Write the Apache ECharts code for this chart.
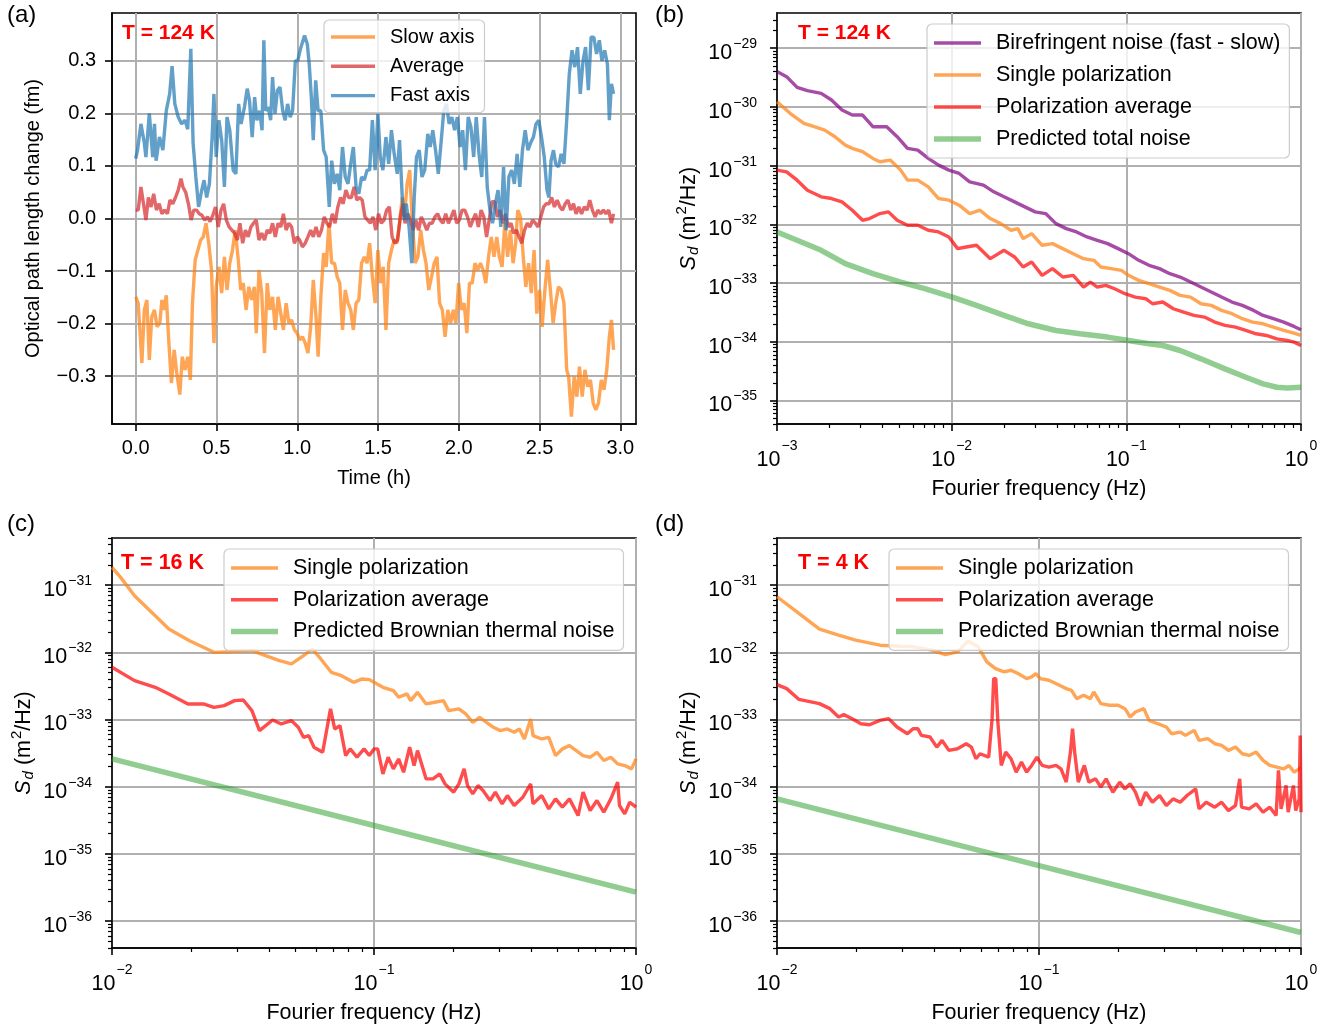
<!DOCTYPE html>
<html><head><meta charset="utf-8">
<script src="https://cdn.jsdelivr.net/npm/echarts@6/dist/echarts.min.js"></script>
<style>html,body{margin:0;padding:0;background:#fff}#c{width:1339px;height:1029px}</style>
</head><body><div id="c"></div>
<script>
// ---------- Panel (a): time (h), optical path length change (fm) ----------
const slowAxis = [[0.000,-0.149],[0.015,-0.161],[0.027,-0.218],[0.038,-0.275],[0.053,-0.174],[0.069,-0.155],[0.084,-0.269],[0.099,-0.187],[0.116,-0.174],[0.132,-0.206],[0.149,-0.199],[0.162,-0.155],[0.174,-0.174],[0.189,-0.146],[0.204,-0.231],[0.221,-0.313],[0.238,-0.25],[0.254,-0.294],[0.273,-0.335],[0.288,-0.263],[0.305,-0.288],[0.322,-0.263],[0.338,-0.307],[0.351,-0.161],[0.368,-0.079],[0.385,-0.06],[0.402,-0.041],[0.418,-0.035],[0.435,-0.009],[0.452,-0.047],[0.469,-0.098],[0.484,-0.237],[0.498,-0.13],[0.515,-0.092],[0.532,-0.142],[0.549,-0.073],[0.565,-0.136],[0.582,-0.085],[0.599,-0.06],[0.616,-0.022],[0.633,-0.073],[0.650,-0.136],[0.666,-0.123],[0.683,-0.174],[0.700,-0.13],[0.717,-0.155],[0.734,-0.13],[0.746,-0.218],[0.763,-0.098],[0.780,-0.142],[0.797,-0.256],[0.814,-0.123],[0.830,-0.174],[0.847,-0.149],[0.864,-0.212],[0.881,-0.149],[0.898,-0.181],[0.914,-0.212],[0.931,-0.161],[0.948,-0.199],[0.965,-0.193],[0.982,-0.212],[0.999,-0.218],[1.015,-0.231],[1.032,-0.225],[1.049,-0.237],[1.066,-0.256],[1.083,-0.206],[1.099,-0.117],[1.116,-0.187],[1.129,-0.263],[1.146,-0.149],[1.163,-0.066],[1.179,-0.092],[1.196,-0.009],[1.213,-0.085],[1.230,-0.085],[1.247,-0.111],[1.263,-0.123],[1.280,-0.212],[1.297,-0.136],[1.314,-0.161],[1.331,-0.174],[1.347,-0.212],[1.364,-0.161],[1.381,-0.155],[1.398,-0.085],[1.415,-0.073],[1.432,-0.085],[1.448,-0.047],[1.465,-0.111],[1.482,-0.161],[1.499,-0.06],[1.516,-0.123],[1.532,-0.092],[1.549,-0.212],[1.566,-0.085],[1.583,-0.06],[1.600,-0.041],[1.617,-0.047],[1.633,-0.009],[1.650,0.04],[1.663,0.003],[1.680,0.066],[1.696,0.092],[1.713,-0.009],[1.730,-0.085],[1.747,-0.073],[1.764,-0.022],[1.781,-0.06],[1.797,-0.085],[1.814,-0.136],[1.831,-0.111],[1.848,-0.085],[1.865,-0.073],[1.881,-0.161],[1.898,-0.174],[1.915,-0.225],[1.932,-0.174],[1.949,-0.199],[1.966,-0.174],[1.982,-0.199],[1.999,-0.123],[2.016,-0.174],[2.033,-0.161],[2.050,-0.218],[2.066,-0.123],[2.083,-0.123],[2.100,-0.085],[2.117,-0.098],[2.134,-0.085],[2.150,-0.098],[2.167,-0.123],[2.184,-0.073],[2.201,-0.035],[2.218,-0.073],[2.235,-0.035],[2.251,-0.073],[2.268,-0.092],[2.285,-0.009],[2.302,-0.073],[2.319,-0.022],[2.336,-0.085],[2.352,-0.047],[2.365,0.016],[2.382,0.003],[2.399,-0.073],[2.415,-0.13],[2.432,-0.085],[2.449,-0.142],[2.466,-0.06],[2.483,-0.181],[2.500,-0.136],[2.516,-0.206],[2.533,-0.136],[2.550,-0.079],[2.567,-0.136],[2.584,-0.199],[2.600,-0.161],[2.617,-0.13],[2.634,-0.136],[2.651,-0.161],[2.668,-0.288],[2.680,-0.301],[2.697,-0.377],[2.714,-0.301],[2.731,-0.339],[2.747,-0.282],[2.764,-0.339],[2.781,-0.288],[2.798,-0.32],[2.815,-0.307],[2.832,-0.351],[2.848,-0.364],[2.865,-0.351],[2.882,-0.307],[2.899,-0.326],[2.916,-0.288],[2.932,-0.225],[2.945,-0.193],[2.958,-0.25]];

const averageAxis = [[0.000,0.016],[0.015,0.016],[0.032,0.06],[0.048,0.028],[0.063,-0.003],[0.078,0.04],[0.095,0.022],[0.111,0.047],[0.128,0.016],[0.145,0.028],[0.162,0.009],[0.179,0.016],[0.196,0.009],[0.212,0.035],[0.229,0.028],[0.246,0.04],[0.263,0.054],[0.280,0.076],[0.292,0.06],[0.309,0.05],[0.326,0.028],[0.343,-0.003],[0.359,0.016],[0.376,0.016],[0.393,0.009],[0.410,0.006],[0.427,-0.003],[0.444,0.003],[0.460,-0.006],[0.477,0.006],[0.494,0.022],[0.511,-0.016],[0.528,0.016],[0.544,0.028],[0.561,-0.003],[0.578,-0.016],[0.595,-0.022],[0.612,-0.028],[0.629,-0.041],[0.645,-0.009],[0.662,-0.047],[0.679,-0.022],[0.696,-0.035],[0.713,-0.016],[0.729,-0.009],[0.746,-0.003],[0.763,-0.041],[0.780,-0.028],[0.797,-0.041],[0.814,-0.022],[0.830,-0.028],[0.847,-0.009],[0.864,-0.035],[0.881,-0.009],[0.898,-0.016],[0.914,0.009],[0.931,-0.022],[0.948,-0.009],[0.965,-0.016],[0.982,-0.047],[0.999,-0.035],[1.015,-0.041],[1.032,-0.054],[1.049,-0.047],[1.066,-0.035],[1.083,-0.022],[1.099,-0.035],[1.116,-0.016],[1.133,-0.035],[1.150,-0.022],[1.167,0.003],[1.184,-0.009],[1.200,-0.016],[1.217,0.009],[1.234,-0.009],[1.251,0.022],[1.268,0.04],[1.284,0.028],[1.301,0.054],[1.318,0.04],[1.335,0.04],[1.352,0.06],[1.369,0.035],[1.385,0.04],[1.402,0.035],[1.419,0.003],[1.436,-0.003],[1.453,-0.009],[1.469,0.003],[1.486,-0.022],[1.503,0.009],[1.520,-0.009],[1.537,-0.003],[1.553,0.016],[1.570,0.022],[1.587,-0.035],[1.604,-0.047],[1.621,-0.041],[1.638,0.003],[1.654,0.028],[1.667,-0.009],[1.684,0.009],[1.701,-0.003],[1.717,-0.022],[1.734,-0.003],[1.751,-0.022],[1.768,0.003],[1.785,-0.009],[1.802,-0.022],[1.818,-0.009],[1.835,-0.009],[1.852,0.003],[1.869,0.009],[1.886,-0.003],[1.902,-0.009],[1.919,0.009],[1.936,-0.009],[1.953,0.003],[1.970,0.016],[1.987,-0.009],[2.003,-0.003],[2.020,0.016],[2.037,0.016],[2.054,0.003],[2.071,-0.016],[2.087,-0.003],[2.104,0.009],[2.121,-0.016],[2.138,0.016],[2.155,0.003],[2.172,-0.035],[2.188,-0.003],[2.205,0.032],[2.222,0.032],[2.239,0.003],[2.256,0.016],[2.272,-0.009],[2.289,0.009],[2.306,-0.016],[2.323,-0.009],[2.340,-0.028],[2.357,-0.022],[2.373,-0.035],[2.390,-0.047],[2.407,-0.022],[2.424,-0.009],[2.441,-0.016],[2.457,-0.003],[2.474,-0.009],[2.491,-0.016],[2.508,0.003],[2.525,0.022],[2.541,0.028],[2.558,0.028],[2.575,0.04],[2.592,0.022],[2.609,0.035],[2.626,0.022],[2.642,0.016],[2.659,0.028],[2.676,0.035],[2.693,0.016],[2.710,0.028],[2.726,0.009],[2.743,0.022],[2.760,0.009],[2.777,0.022],[2.794,0.016],[2.811,0.035],[2.827,0.016],[2.844,0.003],[2.861,0.016],[2.878,0.009],[2.895,0.016],[2.911,0.009],[2.928,0.016],[2.945,-0.009],[2.958,0.009]];

const fastAxis = [[0.000,0.114],[0.011,0.13],[0.032,0.18],[0.053,0.144],[0.063,0.117],[0.084,0.2],[0.105,0.117],[0.116,0.18],[0.126,0.11],[0.147,0.155],[0.168,0.13],[0.189,0.205],[0.210,0.237],[0.225,0.29],[0.242,0.218],[0.263,0.193],[0.284,0.18],[0.305,0.187],[0.322,0.17],[0.341,0.323],[0.355,0.144],[0.372,0.079],[0.389,0.022],[0.406,0.05],[0.423,0.073],[0.439,0.04],[0.456,0.066],[0.473,0.155],[0.484,0.237],[0.498,0.117],[0.515,0.187],[0.532,0.149],[0.549,0.06],[0.565,0.193],[0.582,0.168],[0.603,0.092],[0.620,0.085],[0.637,0.218],[0.652,0.18],[0.673,0.212],[0.690,0.247],[0.704,0.225],[0.721,0.155],[0.736,0.231],[0.750,0.187],[0.767,0.205],[0.782,0.168],[0.793,0.339],[0.805,0.205],[0.820,0.212],[0.835,0.187],[0.847,0.269],[0.862,0.199],[0.877,0.244],[0.893,0.25],[0.910,0.205],[0.925,0.187],[0.940,0.218],[0.956,0.193],[0.971,0.205],[0.988,0.30],[1.003,0.30],[1.020,0.323],[1.032,0.32],[1.045,0.348],[1.062,0.332],[1.074,0.294],[1.087,0.231],[1.099,0.149],[1.114,0.263],[1.129,0.205],[1.146,0.205],[1.163,0.13],[1.179,0.117],[1.198,0.022],[1.213,0.11],[1.230,0.066],[1.247,0.085],[1.263,0.054],[1.280,0.136],[1.297,0.079],[1.314,0.066],[1.331,0.104],[1.347,0.136],[1.364,0.06],[1.381,0.047],[1.398,0.079],[1.415,0.073],[1.432,0.092],[1.448,0.092],[1.465,0.187],[1.482,0.092],[1.499,0.199],[1.514,0.117],[1.530,0.092],[1.549,0.155],[1.566,0.104],[1.583,0.168],[1.600,0.123],[1.619,0.085],[1.633,0.149],[1.650,0.04],[1.663,-0.003],[1.675,0.028],[1.692,-0.016],[1.709,-0.085],[1.724,0.04],[1.738,0.117],[1.755,0.13],[1.772,0.079],[1.789,0.092],[1.808,0.161],[1.823,0.136],[1.839,0.168],[1.856,0.13],[1.873,0.085],[1.890,0.144],[1.907,0.205],[1.924,0.218],[1.940,0.18],[1.957,0.193],[1.974,0.168],[1.991,0.193],[2.008,0.136],[2.024,0.168],[2.041,0.092],[2.058,0.193],[2.075,0.174],[2.092,0.117],[2.108,0.193],[2.125,0.123],[2.142,0.079],[2.159,0.193],[2.176,0.06],[2.193,0.016],[2.209,-0.009],[2.226,0.028],[2.243,0.054],[2.260,-0.016],[2.277,0.098],[2.293,-0.022],[2.310,0.079],[2.327,0.092],[2.344,0.066],[2.361,0.123],[2.378,0.06],[2.394,0.13],[2.411,0.168],[2.428,0.13],[2.445,0.144],[2.462,0.155],[2.478,0.18],[2.495,0.187],[2.512,0.155],[2.529,0.117],[2.546,0.054],[2.558,0.04],[2.571,0.11],[2.586,0.13],[2.600,0.104],[2.617,0.098],[2.634,0.123],[2.651,0.104],[2.668,0.187],[2.684,0.275],[2.701,0.32],[2.718,0.288],[2.735,0.326],[2.752,0.237],[2.769,0.30],[2.785,0.326],[2.802,0.244],[2.819,0.345],[2.836,0.345],[2.853,0.313],[2.870,0.339],[2.886,0.30],[2.903,0.32],[2.920,0.294],[2.932,0.187],[2.945,0.256],[2.958,0.237]];

// ---------- Panel (b): T = 124 K, [log10 f (Hz), log10 S_d (m^2/Hz)] ----------
const bBirefringent = [[-3.000,-29.398],[-2.945,-29.484],[-2.885,-29.666],[-2.826,-29.722],[-2.747,-29.768],[-2.688,-29.882],[-2.628,-30.052],[-2.569,-30.138],[-2.510,-30.138],[-2.451,-30.337],[-2.372,-30.337],[-2.312,-30.507],[-2.253,-30.706],[-2.194,-30.735],[-2.134,-30.877],[-2.075,-30.991],[-2.016,-31.076],[-1.957,-31.133],[-1.897,-31.275],[-1.818,-31.332],[-1.759,-31.446],[-1.700,-31.531],[-1.640,-31.617],[-1.581,-31.702],[-1.522,-31.787],[-1.462,-31.816],[-1.403,-31.987],[-1.344,-32.072],[-1.285,-32.129],[-1.225,-32.214],[-1.166,-32.271],[-1.107,-32.328],[-1.047,-32.413],[-0.988,-32.499],[-0.929,-32.612],[-0.870,-32.697],[-0.810,-32.754],[-0.751,-32.840],[-0.692,-32.897],[-0.632,-32.982],[-0.573,-33.067],[-0.514,-33.152],[-0.455,-33.238],[-0.395,-33.323],[-0.336,-33.380],[-0.271,-33.465],[-0.217,-33.551],[-0.158,-33.607],[-0.099,-33.664],[-0.040,-33.738],[0.000,-33.795]];
const bSingle = [[-3.000,-29.910],[-2.925,-30.109],[-2.846,-30.280],[-2.787,-30.337],[-2.727,-30.394],[-2.668,-30.507],[-2.609,-30.650],[-2.569,-30.706],[-2.510,-30.763],[-2.451,-30.877],[-2.411,-30.934],[-2.352,-30.905],[-2.292,-31.076],[-2.253,-31.247],[-2.194,-31.247],[-2.134,-31.361],[-2.075,-31.560],[-2.016,-31.588],[-1.957,-31.673],[-1.897,-31.816],[-1.838,-31.759],[-1.779,-31.901],[-1.719,-31.987],[-1.660,-32.100],[-1.621,-32.072],[-1.591,-32.243],[-1.542,-32.157],[-1.482,-32.356],[-1.423,-32.328],[-1.364,-32.413],[-1.304,-32.499],[-1.245,-32.584],[-1.186,-32.612],[-1.146,-32.726],[-1.087,-32.754],[-1.028,-32.783],[-0.988,-32.868],[-0.929,-32.954],[-0.870,-33.010],[-0.810,-33.067],[-0.751,-33.124],[-0.692,-33.209],[-0.632,-33.238],[-0.573,-33.352],[-0.514,-33.380],[-0.455,-33.465],[-0.395,-33.522],[-0.336,-33.607],[-0.277,-33.664],[-0.217,-33.693],[-0.158,-33.750],[-0.099,-33.807],[-0.040,-33.852],[0.000,-33.892]];
const bAverage = [[-3.000,-31.076],[-2.945,-31.105],[-2.885,-31.247],[-2.826,-31.418],[-2.747,-31.531],[-2.688,-31.560],[-2.628,-31.617],[-2.569,-31.759],[-2.510,-31.930],[-2.470,-31.901],[-2.411,-31.816],[-2.362,-31.787],[-2.312,-31.930],[-2.253,-32.015],[-2.194,-32.015],[-2.134,-32.100],[-2.075,-32.129],[-2.016,-32.214],[-1.966,-32.413],[-1.917,-32.385],[-1.858,-32.356],[-1.779,-32.584],[-1.700,-32.442],[-1.640,-32.555],[-1.591,-32.726],[-1.542,-32.641],[-1.482,-32.868],[-1.423,-32.754],[-1.364,-32.897],[-1.304,-32.868],[-1.245,-33.067],[-1.206,-32.982],[-1.166,-33.067],[-1.117,-33.039],[-1.067,-33.096],[-1.008,-33.181],[-0.949,-33.238],[-0.889,-33.266],[-0.850,-33.352],[-0.791,-33.323],[-0.731,-33.437],[-0.672,-33.494],[-0.613,-33.551],[-0.553,-33.579],[-0.494,-33.664],[-0.435,-33.721],[-0.375,-33.750],[-0.316,-33.807],[-0.257,-33.863],[-0.198,-33.892],[-0.138,-33.949],[-0.079,-33.977],[-0.040,-34.006],[0.000,-34.063]];
const bPredictedTotal = [[-3.000,-32.129],[-2.885,-32.271],[-2.747,-32.442],[-2.609,-32.670],[-2.451,-32.840],[-2.292,-32.982],[-2.154,-33.096],[-1.996,-33.238],[-1.858,-33.380],[-1.700,-33.551],[-1.561,-33.693],[-1.403,-33.807],[-1.265,-33.863],[-1.107,-33.920],[-0.988,-33.977],[-0.870,-34.034],[-0.791,-34.063],[-0.692,-34.148],[-0.573,-34.290],[-0.435,-34.461],[-0.316,-34.603],[-0.217,-34.717],[-0.138,-34.774],[-0.079,-34.785],[0.000,-34.774]];

// ---------- Panel (c): T = 16 K ----------
const cSingle = [[-2.000,-30.737],[-1.967,-30.886],[-1.914,-31.159],[-1.835,-31.456],[-1.783,-31.654],[-1.704,-31.828],[-1.611,-32.001],[-1.545,-31.991],[-1.466,-31.976],[-1.414,-32.051],[-1.361,-32.125],[-1.315,-32.174],[-1.269,-32.051],[-1.236,-31.951],[-1.203,-32.100],[-1.163,-32.298],[-1.124,-32.348],[-1.078,-32.447],[-1.045,-32.397],[-1.018,-32.407],[-1.000,-32.447],[-0.966,-32.521],[-0.926,-32.571],[-0.906,-32.670],[-0.874,-32.620],[-0.860,-32.720],[-0.834,-32.596],[-0.801,-32.769],[-0.768,-32.744],[-0.735,-32.720],[-0.715,-32.868],[-0.676,-32.843],[-0.650,-32.918],[-0.623,-33.042],[-0.597,-32.967],[-0.571,-33.042],[-0.544,-33.116],[-0.518,-33.166],[-0.491,-33.141],[-0.465,-33.190],[-0.445,-33.141],[-0.426,-33.290],[-0.402,-32.992],[-0.393,-33.240],[-0.360,-33.290],[-0.333,-33.265],[-0.307,-33.537],[-0.281,-33.438],[-0.254,-33.389],[-0.228,-33.463],[-0.202,-33.537],[-0.175,-33.562],[-0.149,-33.488],[-0.123,-33.611],[-0.096,-33.562],[-0.070,-33.661],[-0.043,-33.686],[-0.017,-33.735],[0.000,-33.587]];
const cAverage = [[-2.000,-32.224],[-1.914,-32.422],[-1.835,-32.521],[-1.783,-32.620],[-1.710,-32.769],[-1.651,-32.769],[-1.611,-32.819],[-1.572,-32.794],[-1.532,-32.720],[-1.499,-32.710],[-1.466,-32.868],[-1.437,-33.166],[-1.387,-33.007],[-1.354,-33.067],[-1.315,-33.017],[-1.289,-33.116],[-1.269,-33.265],[-1.249,-33.240],[-1.229,-33.413],[-1.196,-33.488],[-1.166,-32.843],[-1.150,-33.141],[-1.130,-33.092],[-1.108,-33.537],[-1.091,-33.438],[-1.065,-33.562],[-1.038,-33.438],[-1.018,-33.537],[-1.000,-33.438],[-0.986,-33.438],[-0.966,-33.810],[-0.946,-33.562],[-0.926,-33.735],[-0.906,-33.587],[-0.887,-33.785],[-0.864,-33.413],[-0.847,-33.686],[-0.834,-33.463],[-0.801,-33.884],[-0.775,-33.884],[-0.749,-33.810],[-0.729,-33.958],[-0.696,-34.082],[-0.676,-33.958],[-0.656,-33.735],[-0.643,-33.983],[-0.623,-34.107],[-0.603,-33.983],[-0.584,-34.057],[-0.557,-34.206],[-0.537,-34.082],[-0.511,-34.256],[-0.491,-34.132],[-0.465,-34.280],[-0.432,-34.157],[-0.402,-33.958],[-0.393,-34.256],[-0.360,-34.132],[-0.333,-34.330],[-0.307,-34.181],[-0.281,-34.305],[-0.254,-34.181],[-0.221,-34.429],[-0.202,-34.082],[-0.175,-34.355],[-0.149,-34.206],[-0.123,-34.380],[-0.096,-34.181],[-0.070,-33.933],[-0.063,-34.280],[-0.043,-34.404],[-0.024,-34.231],[0.000,-34.305]];
const cBrownian = [[-2.000,-33.587],[-1.000,-34.578],[0.000,-35.569]];

// ---------- Panel (d): T = 4 K ----------
const dSingle = [[-2.000,-31.174],[-1.924,-31.398],[-1.838,-31.656],[-1.765,-31.746],[-1.700,-31.820],[-1.607,-31.895],[-1.528,-31.910],[-1.476,-31.919],[-1.410,-31.969],[-1.357,-32.034],[-1.311,-31.994],[-1.271,-31.835],[-1.232,-31.919],[-1.199,-32.143],[-1.166,-32.243],[-1.133,-32.292],[-1.107,-32.268],[-1.080,-32.317],[-1.047,-32.392],[-1.028,-32.367],[-1.012,-32.317],[-0.995,-32.392],[-0.962,-32.417],[-0.922,-32.491],[-0.896,-32.541],[-0.876,-32.566],[-0.856,-32.690],[-0.830,-32.640],[-0.804,-32.690],[-0.791,-32.590],[-0.764,-32.764],[-0.731,-32.789],[-0.698,-32.789],[-0.672,-32.839],[-0.652,-32.963],[-0.632,-32.889],[-0.600,-32.839],[-0.580,-33.013],[-0.547,-33.063],[-0.514,-33.112],[-0.494,-33.212],[-0.461,-33.187],[-0.441,-33.237],[-0.408,-33.162],[-0.389,-33.311],[-0.356,-33.286],[-0.329,-33.361],[-0.303,-33.386],[-0.277,-33.460],[-0.250,-33.410],[-0.224,-33.510],[-0.198,-33.535],[-0.171,-33.485],[-0.145,-33.609],[-0.119,-33.684],[-0.092,-33.709],[-0.066,-33.734],[-0.046,-33.684],[-0.026,-33.783],[-0.007,-33.734],[0.000,-33.709]];
const dAverage = [[-2.000,-32.481],[-1.963,-32.541],[-1.917,-32.700],[-1.838,-32.764],[-1.798,-32.839],[-1.765,-32.963],[-1.745,-32.928],[-1.713,-32.988],[-1.680,-33.063],[-1.647,-33.078],[-1.607,-33.013],[-1.574,-32.988],[-1.542,-33.112],[-1.502,-33.212],[-1.481,-33.137],[-1.462,-33.137],[-1.449,-33.237],[-1.416,-33.261],[-1.390,-33.411],[-1.370,-33.311],[-1.344,-33.460],[-1.311,-33.435],[-1.278,-33.361],[-1.258,-33.411],[-1.241,-33.584],[-1.225,-33.510],[-1.192,-33.560],[-1.179,-32.988],[-1.173,-32.392],[-1.165,-32.392],[-1.157,-33.038],[-1.144,-33.684],[-1.127,-33.485],[-1.107,-33.584],[-1.087,-33.783],[-1.067,-33.634],[-1.047,-33.783],[-1.028,-33.684],[-1.008,-33.560],[-0.988,-33.684],[-0.962,-33.709],[-0.935,-33.684],[-0.916,-33.734],[-0.896,-33.932],[-0.880,-33.485],[-0.872,-33.137],[-0.864,-33.485],[-0.850,-33.932],[-0.827,-33.684],[-0.810,-33.932],[-0.784,-33.883],[-0.764,-34.007],[-0.744,-33.883],[-0.718,-34.082],[-0.692,-33.932],[-0.672,-34.032],[-0.652,-33.957],[-0.632,-34.082],[-0.613,-34.280],[-0.593,-34.082],[-0.567,-34.231],[-0.540,-34.131],[-0.514,-34.280],[-0.488,-34.181],[-0.461,-34.231],[-0.435,-34.131],[-0.402,-34.032],[-0.389,-34.330],[-0.362,-34.231],[-0.329,-34.305],[-0.303,-34.231],[-0.277,-34.355],[-0.250,-34.280],[-0.234,-33.883],[-0.227,-34.305],[-0.198,-34.330],[-0.171,-34.256],[-0.145,-34.380],[-0.119,-34.305],[-0.095,-34.429],[-0.086,-33.758],[-0.076,-34.330],[-0.057,-33.982],[-0.049,-34.380],[-0.029,-33.982],[-0.020,-34.355],[-0.007,-34.181],[-0.003,-33.237],[0.000,-34.380]];
const dBrownian = [[-2.000,-34.181],[-1.000,-35.175],[0.000,-36.169]];

// ---------- tick labels ----------
const aXTicks = [0, 0.5, 1.0, 1.5, 2.0, 2.5, 3.0];
const aYTicks = [-0.3, -0.2, -0.1, 0.0, 0.1, 0.2, 0.3];
const bXTicks = [-3, -2, -1, 0];
const bYTicks = [-35, -34, -33, -32, -31, -30, -29];
const cdXTicks = [-2, -1, 0];
const cdYTicks = [-36, -35, -34, -33, -32, -31];

// ---------- rendering ----------
const FF = "'Liberation Sans', Arial, sans-serif";
const C = {
  slow: 'rgba(255,127,14,0.7)', avgA: 'rgba(214,39,40,0.7)', fast: 'rgba(31,119,180,0.7)',
  purple: 'rgba(128,0,128,0.7)', orange: 'rgba(255,127,14,0.7)', red: 'rgba(255,0,0,0.7)', green: 'rgba(44,160,44,0.52)'
};
const LW = 3.4, LW_GREEN = 5.5;
const GRID_COLOR = '#b0b0b0';

function minorTicks(lo, hi) {
  const out = [];
  for (let n = Math.floor(lo) - 1; n <= Math.ceil(hi); n++) {
    for (let k = 2; k <= 9; k++) { const v = n + Math.log10(k); if (v > lo && v < hi) out.push(v); }
  }
  return out;
}
function expStr(v) { const n = Math.round(v); return (n < 0 ? '\u2212' : '') + Math.abs(n); }
function decStr(v) { return (v < -1e-9 ? '\u2212' : '') + Math.abs(v).toFixed(1); }

const richX = {
  b: { fontSize: 21.5, lineHeight: 22, padding: [10, 0, 0, 0], verticalAlign: 'top', fontFamily: FF, color: '#000' },
  s: { fontSize: 14, lineHeight: 14, padding: [0, 0, 0, 1], verticalAlign: 'top', fontFamily: FF, color: '#000' }
};
const richY = {
  b: { fontSize: 21.5, lineHeight: 22, padding: [5, 0, 8, 0], verticalAlign: 'top', fontFamily: FF, color: '#000' },
  s: { fontSize: 14, lineHeight: 14, padding: [0, 0, 0, 1], verticalAlign: 'top', fontFamily: FF, color: '#000' }
};
const richName = {
  n: { fontSize: 21.5, lineHeight: 22, padding: [8, 0, 4, 0], verticalAlign: 'top', fontFamily: FF, color: '#000' },
  i: { fontSize: 21.5, lineHeight: 22, padding: [8, 0, 4, 0], verticalAlign: 'top', fontFamily: FF, fontStyle: 'italic', color: '#000' },
  sub: { fontSize: 15, lineHeight: 15, padding: [16, 0, 0, 1], verticalAlign: 'top', fontFamily: FF, fontStyle: 'italic', color: '#000' },
  sup: { fontSize: 15, lineHeight: 15, padding: [4, 0, 0, 1], verticalAlign: 'top', fontFamily: FF, color: '#000' }
};
const SD_NAME = '{i|S}{sub|d}{n| (m}{sup|2}{n|/Hz)}';

const axisLineStyle = { show: true, onZero: false, lineStyle: { color: '#000', width: 1.6 } };
const majorTick = (vals) => ({ show: true, customValues: vals, length: 7, lineStyle: { color: '#000', width: 1.6 } });
const splitL = { show: true, lineStyle: { color: GRID_COLOR, width: 2 } };

function logX(grid, min, max, ticks) {
  return { gridIndex: grid, type: 'value', min, max, position: 'bottom', axisLine: axisLineStyle, axisTick: majorTick(ticks),
    axisLabel: { customValues: ticks, margin: 15, formatter: v => '{b|10}{s|' + expStr(v) + '}', rich: richX },
    splitLine: splitL, name: 'Fourier frequency (Hz)', nameLocation: 'middle', nameGap: 54,
    nameTextStyle: { fontSize: 21.5, lineHeight: 22, fontFamily: FF, color: '#000' } };
}
function logY(grid, min, max, ticks) {
  return { gridIndex: grid, type: 'value', min, max, position: 'left', axisLine: axisLineStyle, axisTick: majorTick(ticks),
    axisLabel: { customValues: ticks, margin: 20, formatter: v => '{b|10}{s|' + expStr(v) + '}', rich: richY },
    splitLine: splitL, name: SD_NAME, nameLocation: 'middle', nameGap: 70, nameTextStyle: { rich: richName, fontFamily: FF } };
}
function minorAxis(grid, min, max, pos) {
  return { gridIndex: grid, type: 'value', min, max, position: pos, axisLine: { show: false, onZero: false },
    axisTick: { show: true, customValues: minorTicks(min, max), length: 4, lineStyle: { color: '#000', width: 1.2 } },
    axisLabel: { show: false }, splitLine: { show: false } };
}

const bY = [-35.40, -28.40], cdY = [-36.40, -30.30];

const xAxis = [
  { gridIndex: 0, type: 'value', min: -0.147, max: 3.097, position: 'bottom', axisLine: axisLineStyle, axisTick: majorTick(aXTicks),
    axisLabel: { customValues: aXTicks, margin: 14, formatter: v => decStr(v), fontSize: 20, lineHeight: 20, fontFamily: FF, color: '#000' },
    splitLine: splitL, name: 'Time (h)', nameLocation: 'middle', nameGap: 44, nameTextStyle: { fontSize: 20, lineHeight: 20, fontFamily: FF, color: '#000' } },
  logX(1, -3, 0, bXTicks),
  logX(2, -2, 0, cdXTicks),
  logX(3, -2, 0, cdXTicks),
  minorAxis(1, -3, 0, 'bottom'),
  minorAxis(2, -2, 0, 'bottom'),
  minorAxis(3, -2, 0, 'bottom')
];
const yAxis = [
  { gridIndex: 0, type: 'value', min: -0.391, max: 0.391, position: 'left', axisLine: axisLineStyle, axisTick: majorTick(aYTicks),
    axisLabel: { customValues: aYTicks, margin: 16, formatter: v => decStr(v), fontSize: 20, fontFamily: FF, color: '#000' },
    splitLine: splitL, name: 'Optical path length change (fm)', nameLocation: 'middle', nameGap: 69,
    nameTextStyle: { fontSize: 20, lineHeight: 20, fontFamily: FF, color: '#000' } },
  logY(1, bY[0], bY[1], bYTicks),
  logY(2, cdY[0], cdY[1], cdYTicks),
  logY(3, cdY[0], cdY[1], cdYTicks),
  minorAxis(1, bY[0], bY[1], 'left'),
  minorAxis(2, cdY[0], cdY[1], 'left'),
  minorAxis(3, cdY[0], cdY[1], 'left')
];

function ln(name, data, color, width, idx) {
  return { type: 'line', name, data, xAxisIndex: idx, yAxisIndex: idx, showSymbol: false, symbol: 'none',
    lineStyle: { color, width }, itemStyle: { color }, emphasis: { disabled: true }, clip: true };
}
const series = [
  ln('Slow axis', slowAxis, C.slow, LW, 0),
  ln('Average', averageAxis, C.avgA, LW, 0),
  ln('Fast axis', fastAxis, C.fast, LW, 0),
  ln('Birefringent noise (fast - slow)', bBirefringent, C.purple, LW, 1),
  ln('Single polarization', bSingle, C.orange, LW, 1),
  ln('Polarization average', bAverage, C.red, LW, 1),
  ln('Predicted total noise', bPredictedTotal, C.green, LW_GREEN, 1),
  ln('Single polarization', cSingle, C.orange, LW, 2),
  ln('Polarization average', cAverage, C.red, LW, 2),
  ln('Predicted Brownian thermal noise', cBrownian, C.green, LW_GREEN, 2),
  ln('Single polarization', dSingle, C.orange, LW, 3),
  ln('Polarization average', dAverage, C.red, LW, 3),
  ln('Predicted Brownian thermal noise', dBrownian, C.green, LW_GREEN, 3)
];

function bar(w, h) { return 'path://M0,0h' + w + 'v' + h + 'h-' + w + 'z'; }
function legend(left, top, items, fs, lh, gap, iw, pad) {
  return { show: true, orient: 'vertical', left, top, selectedMode: false, itemWidth: iw, itemHeight: 12, itemGap: gap,
    data: items.map(([name, thick]) => ({ name, icon: bar(iw, thick) })),
    padding: pad, backgroundColor: 'rgba(255,255,255,0.8)', borderColor: '#cccccc', borderWidth: 1.2, borderRadius: 5,
    textStyle: { fontSize: fs, lineHeight: lh, fontFamily: FF, color: '#000', padding: [0, 0, 0, 10] } };
}
const legends = [
  legend(324, 20, [['Slow axis', LW], ['Average', LW], ['Fast axis', LW]], 20, 20, 9.3, 44, [7, 10, 7, 7]),
  legend(927, 24, [['Birefringent noise (fast - slow)', LW], ['Single polarization', LW], ['Polarization average', LW], ['Predicted total noise', LW_GREEN]], 21.5, 22, 10, 47, [8, 9, 8, 7]),
  legend(224, 549, [['Single polarization', LW], ['Polarization average', LW], ['Predicted Brownian thermal noise', LW_GREEN]], 21.5, 22, 9.7, 47, [8, 9, 8, 7]),
  legend(889, 549, [['Single polarization', LW], ['Polarization average', LW], ['Predicted Brownian thermal noise', LW_GREEN]], 21.5, 22, 9.7, 47, [8, 9, 8, 7])
];

function txt(x, y, text, font, fill) {
  return { type: 'text', x, y, z: 100, style: { text, font, fill, verticalAlign: 'middle', textVerticalAlign: 'middle' } };
}
const graphic = [
  txt(7, 15, '(a)', "24px 'Liberation Sans'", '#000'),
  txt(655, 15, '(b)', "24px 'Liberation Sans'", '#000'),
  txt(7, 524, '(c)', "24px 'Liberation Sans'", '#000'),
  txt(655, 524, '(d)', "24px 'Liberation Sans'", '#000'),
  txt(122, 33, 'T = 124 K', "bold 21px 'Liberation Sans'", '#ff0000'),
  txt(798, 33, 'T = 124 K', "bold 21px 'Liberation Sans'", '#ff0000'),
  txt(121, 563, 'T = 16 K', "bold 21.5px 'Liberation Sans'", '#ff0000'),
  txt(798, 563, 'T = 4 K', "bold 21.5px 'Liberation Sans'", '#ff0000')
];

const gridBase = { show: true, borderColor: '#000', borderWidth: 1.6, backgroundColor: 'transparent', containLabel: false };
const option = {
  animation: false,
  backgroundColor: '#fff',
  grid: [
    Object.assign({ left: 112, top: 13, width: 524, height: 411 }, gridBase),
    Object.assign({ left: 777, top: 13, width: 524, height: 411 }, gridBase),
    Object.assign({ left: 112, top: 538, width: 524, height: 410 }, gridBase),
    Object.assign({ left: 777, top: 538, width: 524, height: 410 }, gridBase)
  ],
  xAxis, yAxis, series, legend: legends, graphic
};
const chart = echarts.init(document.getElementById('c'), null, { renderer: 'canvas' });
chart.setOption(option);
</script></body></html>
